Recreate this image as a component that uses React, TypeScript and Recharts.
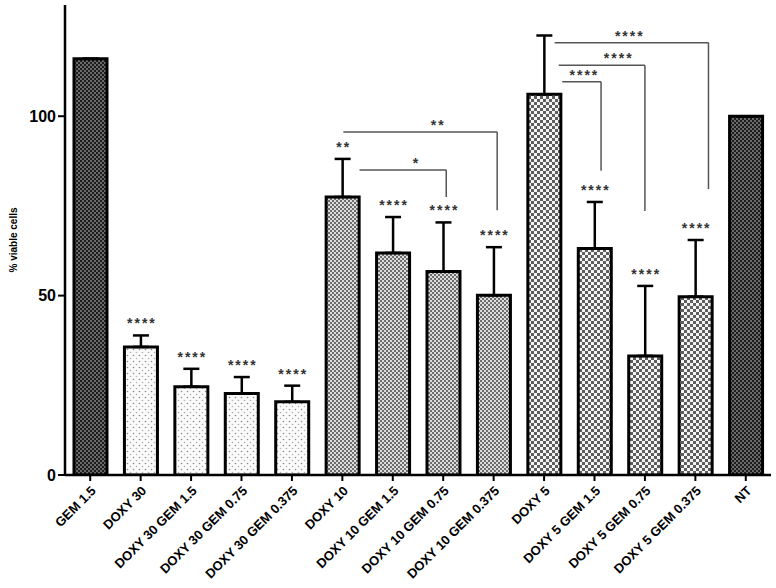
import React from "react";
import {
  BarChart,
  Bar,
  Cell,
  XAxis,
  YAxis,
  ErrorBar,
  LabelList,
  ReferenceLine,
  ReferenceDot,
} from "recharts";

const categories = [
  "GEM 1.5",
  "DOXY 30",
  "DOXY 30 GEM 1.5",
  "DOXY 30 GEM 0.75",
  "DOXY 30 GEM 0.375",
  "DOXY 10",
  "DOXY 10 GEM 1.5",
  "DOXY 10 GEM 0.75",
  "DOXY 10 GEM 0.375",
  "DOXY 5",
  "DOXY 5 GEM 1.5",
  "DOXY 5 GEM 0.75",
  "DOXY 5 GEM 0.375",
  "NT",
];
const viable = [116, 35.7, 24.6, 22.7, 20.4, 77.5, 61.9, 56.7, 50.1, 106.1, 63.1, 33.2, 49.7, 100];
const sem = [0, 3.2, 5.0, 4.6, 4.5, 10.6, 10.0, 13.7, 13.4, 16.4, 13.0, 19.5, 15.8, 0];
const stars = ["", "****", "****", "****", "****", "**", "****", "****", "****", "", "****", "****", "****", ""];
const patterns = ["dark", "dots", "dots", "dots", "dots", "fine", "fine", "fine", "fine", "coarse", "coarse", "coarse", "coarse", "dark"];
const yTicks = [0, 50, 100];

// comparison brackets: from x1 across to x2 at height y, then down to yEnd
const brackets = [
  { x1: 5.02, x2: 8.07, y: 95.6, yEnd: 73.8 },
  { x1: 5.34, x2: 7.06, y: 85.0, yEnd: 77.5 },
  { x1: 9.21, x2: 12.26, y: 120.5, yEnd: 79.7 },
  { x1: 9.29, x2: 11.0, y: 114.2, yEnd: 73.6 },
  { x1: 9.36, x2: 10.13, y: 109.6, yEnd: 84.8 },
];
const bracketLabels = [
  { x: 6.88, y: 98.5, text: "**" },
  { x: 6.45, y: 87.8, text: "*" },
  { x: 10.68, y: 123.3, text: "****" },
  { x: 10.46, y: 117.0, text: "****" },
  { x: 9.78, y: 112.4, text: "****" },
];

const data = categories.map((name, i) => ({
  idx: i,
  name,
  value: viable[i],
  err: [0, sem[i]],
  stars: stars[i],
}));

const FONT = "'Liberation Sans', Arial, sans-serif";

function StarLabel(props: any) {
  const { x, y, width, height, index } = props;
  const s = stars[index];
  if (!s) return null;
  const pxPerUnit = height / viable[index];
  const top = y - sem[index] * pxPerUnit;
  return (
    <text
      x={x + width / 2 + 1}
      y={top - 7}
      textAnchor="middle"
      fontFamily={FONT}
      fontWeight="bold"
      fontSize={14}
      letterSpacing={2}
      fill="#333"
    >
      {s}
    </text>
  );
}

function BracketText(props: any) {
  const { viewBox, value } = props;
  const cx = viewBox.x + (viewBox.width || 0) / 2;
  const cy = viewBox.y + (viewBox.height || 0) / 2;
  return (
    <text
      x={cx + 1}
      y={cy + 8}
      textAnchor="middle"
      fontFamily={FONT}
      fontWeight="bold"
      fontSize={14}
      letterSpacing={2}
      fill="#333"
    >
      {value}
    </text>
  );
}

export default function App() {
  return (
    <div style={{ position: "absolute", left: 0, top: 0, background: "#fff" }}>
      <BarChart
        width={776}
        height={588}
        data={data}
        margin={{ top: 5, right: 5, bottom: 0, left: 0 }}
      >
        <defs>
          <pattern id="dark" width="4" height="4" patternUnits="userSpaceOnUse">
            <rect width="4" height="4" fill="#6a6a6a" />
            <rect width="2" height="2" fill="#1e1e1e" />
            <rect x="2" y="2" width="2" height="2" fill="#1e1e1e" />
          </pattern>
          <pattern id="dots" width="6" height="6" patternUnits="userSpaceOnUse">
            <rect width="6" height="6" fill="#fafafa" />
            <circle cx="1.5" cy="1.5" r="0.8" fill="#8a8a8a" />
            <circle cx="4.5" cy="4.5" r="0.8" fill="#b0b0b0" />
          </pattern>
          <pattern id="fine" width="4" height="4" patternUnits="userSpaceOnUse">
            <rect width="4" height="4" fill="#dcdcdc" />
            <rect width="2" height="2" fill="#6e6e6e" />
            <rect x="2" y="2" width="2" height="2" fill="#6e6e6e" />
          </pattern>
          <pattern id="coarse" width="6" height="6" patternUnits="userSpaceOnUse">
            <rect width="6" height="6" fill="#f4f4f4" />
            <rect width="3" height="3" fill="#5e5e5e" />
            <rect x="3" y="3" width="3" height="3" fill="#5e5e5e" />
          </pattern>
        </defs>
        <XAxis
          dataKey="idx"
          type="number"
          domain={[-0.5, 13.5]}
          ticks={categories.map((_, i) => i)}
          interval={0}
          tickFormatter={(v: number) => categories[v]}
          axisLine={{ stroke: "#000", strokeWidth: 2.5 }}
          tickLine={{ stroke: "#000", strokeWidth: 2 }}
          tickSize={6}
          tickMargin={4}
          angle={-45}
          textAnchor="end"
          tick={{ fontFamily: FONT, fontWeight: "bold", fontSize: 13, fill: "#000" }}
          height={113}
        />
        <YAxis
          domain={[0, 131]}
          ticks={yTicks}
          allowDataOverflow
          width={65}
          axisLine={{ stroke: "#000", strokeWidth: 2.5 }}
          tickLine={{ stroke: "#000", strokeWidth: 2 }}
          tickSize={7}
          tick={{ fontFamily: FONT, fontWeight: "bold", fontSize: 16, fill: "#000" }}
          label={{
            value: "% viable cells",
            angle: -90,
            position: "insideLeft",
            dx: 8,
            style: { fontFamily: FONT, fontWeight: "bold", fontSize: 10, fill: "#000", textAnchor: "middle" },
          }}
        />
        <Bar
          dataKey="value"
          barSize={33}
          stroke="#000"
          strokeWidth={3}
          isAnimationActive={false}
        >
          {data.map((d, i) => (
            <Cell key={d.name} fill={`url(#${patterns[i]})`} />
          ))}
          <ErrorBar dataKey="err" width={8} strokeWidth={2.5} stroke="#000" direction="y" />
          <LabelList dataKey="stars" content={<StarLabel />} />
        </Bar>
        {brackets.map((b, i) => (
          <ReferenceLine
            key={`h${i}`}
            segment={[
              { x: b.x1, y: b.y },
              { x: b.x2, y: b.y },
            ]}
            stroke="#555"
            strokeWidth={1.5}
            ifOverflow="visible"
          />
        ))}
        {brackets.map((b, i) => (
          <ReferenceLine
            key={`v${i}`}
            segment={[
              { x: b.x2, y: b.y },
              { x: b.x2, y: b.yEnd },
            ]}
            stroke="#555"
            strokeWidth={1.5}
            ifOverflow="visible"
          />
        ))}
        {bracketLabels.map((l, i) => (
          <ReferenceDot
            key={`l${i}`}
            x={l.x}
            y={l.y}
            r={0}
            fill="none"
            stroke="none"
            ifOverflow="visible"
            label={<BracketText value={l.text} />}
          />
        ))}
      </BarChart>
    </div>
  );
}
